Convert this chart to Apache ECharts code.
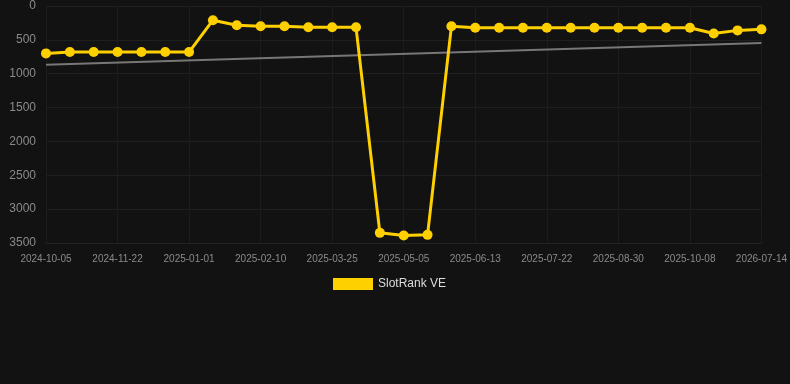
<!DOCTYPE html>
<html>
<head>
<meta charset="utf-8">
<style>
  html, body { margin: 0; padding: 0; background: #121212; }
  #chart { width: 790px; height: 384px; }
</style>
<script src="https://cdn.jsdelivr.net/npm/echarts@6/dist/echarts.min.js"></script>
</head>
<body>
<div id="chart"></div>
<script>
// dates on the x axis (only every third one is labelled)
var dates = [
  '2024-10-05', '2024-10-21', '2024-11-06', '2024-11-22', '2024-12-05', '2024-12-18',
  '2025-01-01', '2025-01-14', '2025-01-27', '2025-02-10', '2025-02-24', '2025-03-11',
  '2025-03-25', '2025-04-08', '2025-04-21', '2025-05-05', '2025-05-18', '2025-05-31',
  '2025-06-13', '2025-06-26', '2025-07-09', '2025-07-22', '2025-08-04', '2025-08-17',
  '2025-08-30', '2025-09-12', '2025-09-25', '2025-10-08', '2025-12-15', '2026-03-20',
  '2026-07-14'
];
// rank values
var rank = [
  700, 680, 680, 680, 680, 680, 680, 210, 285, 300, 300, 315, 315, 315,
  3350, 3390, 3380, 300, 320, 320, 320, 320, 320, 320, 320, 320, 320, 320,
  405, 360, 345
];
// trend line end points
var trendStart = 866;
var trendEnd = 546;
var trend = dates.map(function (d, i) {
  if (i === 0) return trendStart;
  if (i === dates.length - 1) return trendEnd;
  return '-';
});

var font = 'Liberation Sans, Arial, sans-serif';
var chart = echarts.init(document.getElementById('chart'));
chart.setOption({
  backgroundColor: '#121212',
  animation: false,
  grid: { left: 46, right: 28, top: 6, bottom: 141 },
  legend: {
    data: ['SlotRank VE'],
    top: 273,
    left: 328,
    itemWidth: 40,
    itemHeight: 12,
    icon: 'rect',
    textStyle: { color: '#dddddd', fontSize: 12, fontFamily: font }
  },
  xAxis: {
    type: 'category',
    data: dates,
    boundaryGap: false,
    axisLine: { onZero: false, lineStyle: { color: '#222222' } },
    axisTick: { show: false },
    axisLabel: { interval: 2, color: '#8a8a8a', fontSize: 10, margin: 11, fontFamily: font },
    splitLine: { show: true, interval: 2, lineStyle: { color: '#1c1c1c' } }
  },
  yAxis: {
    type: 'value',
    inverse: true,
    min: 0,
    max: 3500,
    interval: 500,
    axisLine: { show: false },
    axisTick: { show: false },
    axisLabel: {
      color: '#8a8a8a', fontSize: 12, margin: 10, fontFamily: font,
      formatter: function (v) { return String(v); }
    },
    splitLine: { lineStyle: { color: '#1f1f1f' } }
  },
  series: [
    {
      name: 'SlotRank VE',
      type: 'line',
      data: rank,
      symbol: 'circle',
      symbolSize: 10,
      color: '#ffd000',
      lineStyle: { width: 3, color: '#ffd000' },
      itemStyle: { color: '#ffd000' },
      z: 3
    },
    {
      name: 'trend',
      type: 'line',
      data: trend,
      connectNulls: true,
      symbol: 'none',
      lineStyle: { width: 2, color: '#777777' },
      z: 2
    }
  ]
});
</script>
</body>
</html>
